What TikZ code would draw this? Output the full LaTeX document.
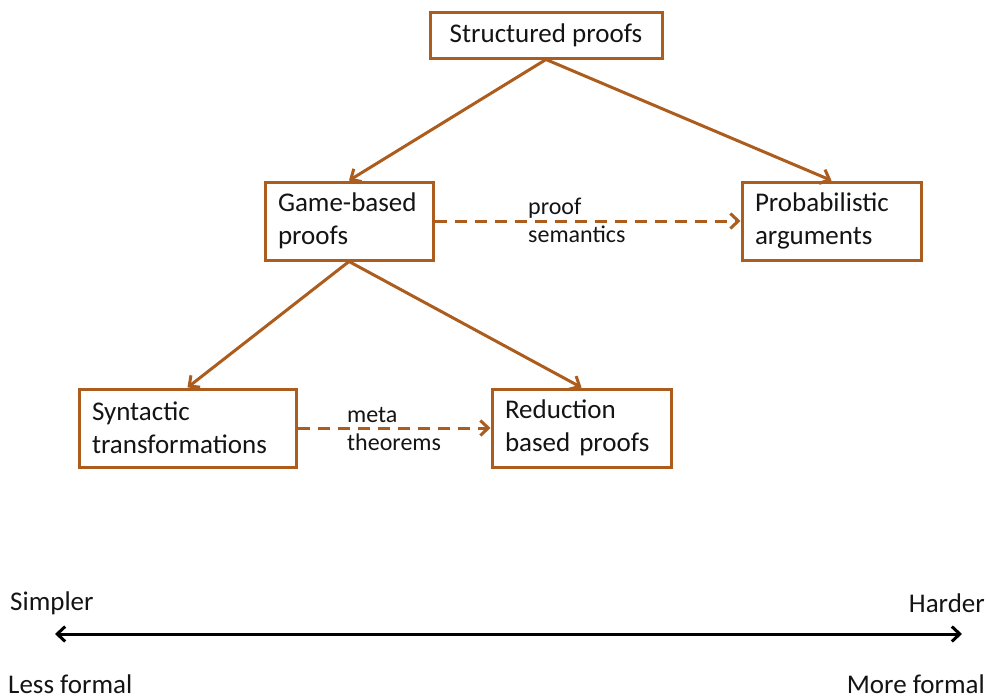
\documentclass[tikz,border=0pt]{standalone}
\usepackage{fontspec}
\setmainfont{Carlito}
\usetikzlibrary{arrows.meta}
\definecolor{rust}{RGB}{172,92,28}
\definecolor{ink}{RGB}{20,20,20}
\begin{document}
\begin{tikzpicture}[x=1pt,y=-1pt,
  box/.style={draw=rust, line width=3pt, fill=white, inner sep=0pt,
    text=ink, font=\fontsize{27}{33}\selectfont},
  twoline/.style={box, minimum height=78pt, align=left},
  link/.style={draw=rust, line width=3pt, -{Straight Barb[length=8pt,width=15pt,line width=3pt]}},
  dlink/.style={link, dash pattern=on 12pt off 8pt},
  note/.style={inner sep=0pt, anchor=west, align=left, text=ink,
    font=\fontsize{24}{28}\selectfont},
  axislabel/.style={inner sep=0pt, text=ink, font=\fontsize{27}{33}\selectfont}]
\useasboundingbox (0,0) rectangle (989,699);

% boxes
\node[box, minimum width=232pt, minimum height=46pt] (top) at (546,35) {Structured proofs};
\node[twoline, minimum width=168pt, text width=142pt] (game) at (349,221) {Game-based\\proofs};
\node[twoline, minimum width=179pt, text width=153pt] (prob) at (831.5,221) {Probabilistic\\arguments};
\node[twoline, minimum width=217pt, text width=191pt] (syn) at (187.5,428) {Syntactic\\transformations};
\node[twoline, minimum width=179pt, text width=153pt] (red) at (581.5,428) {Reduction\\based proofs};

% solid connectors
\draw[link] (top.south) -- (game.north);
\draw[link] (top.south) -- (prob.north);
\draw[link] (game.south) -- (syn.north);
\draw[link] (game.south) -- (red.north);

% dashed connectors with their labels
\draw[dlink] (game.east) -- (prob.west);
\draw[dlink] (syn.east) -- (red.west);
\node[note] (sem) at (528,220) {proof\\semantics};
\node[note] (meta) at (347,429) {meta\\theorems};

% difficulty scale
\coordinate (lend) at (55,634);
\coordinate (rend) at (962,634);
\draw[line width=3pt, black, {Straight Barb[length=8pt,width=15pt,line width=3pt]}-{Straight Barb[length=8pt,width=15pt,line width=3pt]}] (lend) -- (rend);
\node[axislabel, anchor=west] (simp) at (10,603) {Simpler};
\node[axislabel, anchor=east] (hard) at (985,603) {Harder};
\node[axislabel, anchor=west] (less) at (8,684) {Less formal};
\node[axislabel, anchor=east] (more) at (985,684) {More formal};
\end{tikzpicture}
\end{document}
